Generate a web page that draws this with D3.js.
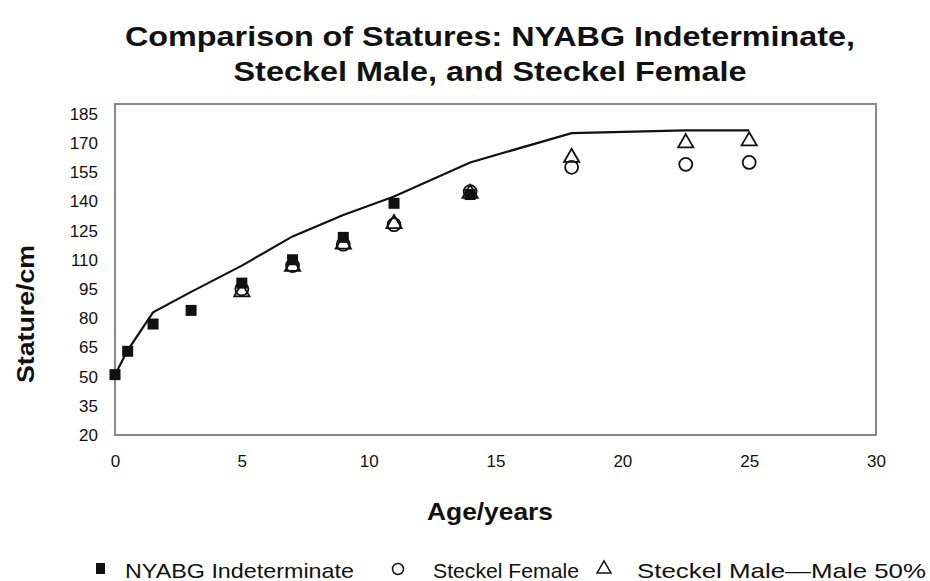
<!DOCTYPE html>
<html><head><meta charset="utf-8">
<script src="https://cdn.jsdelivr.net/npm/d3@7"></script>
<style>body{margin:0;background:#fff}svg{display:block}text{font-family:"Liberation Sans",Arial,sans-serif;fill:#111}</style>
</head><body><svg id="c" width="930" height="581"></svg>
<script>
const nyabgAge = [0, 0.5, 1.5, 3, 5, 7, 9, 11, 14];
const nyabgStature = [51, 63, 77, 84, 98, 110, 121.5, 139, 143.5];
const femaleAge = [5, 7, 9, 11, 14, 18, 22.5, 25];
const femaleStature = [95, 107, 118, 128, 145, 157.5, 159, 160];
const maleAge = [5, 7, 9, 11, 14, 18, 22.5, 25];
const maleStature = [93.5, 106.5, 118, 128.5, 144, 162.5, 170, 171];
const lineAge = [0, 0.5, 1.5, 3, 5, 7, 9, 11, 14, 18, 22.5, 25];
const lineStature = [51, 63.5, 83, 93.5, 107, 122, 133, 142.5, 160, 175, 176.5, 176.5];
const xTicks = [0, 5, 10, 15, 20, 25, 30];
const yTicks = [20, 35, 50, 65, 80, 95, 110, 125, 140, 155, 170, 185];
const titleLines = ["Comparison of Statures: NYABG Indeterminate,", "Steckel Male, and Steckel Female"];
const legendLabels = ["NYABG Indeterminate", "Steckel Female", "Steckel Male\u2014Male 50%"];

const svg = d3.select("#c");
const m = {l:115, r:876, t:104, b:435};
const x = d3.scaleLinear().domain([0,30]).range([m.l, m.r]);
const y = d3.scaleLinear().domain([20,190]).range([m.b, m.t]);

// title
const tw = [730, 513];
svg.selectAll("text.title").data(titleLines).join("text")
  .attr("class","title").attr("x",490).attr("y",(d,i)=>46+i*35)
  .attr("text-anchor","middle").attr("font-size",28).attr("font-weight","bold")
  .attr("textLength",(d,i)=>tw[i]).attr("lengthAdjust","spacingAndGlyphs").text(d=>d);

// plot box
svg.append("rect").attr("x",m.l).attr("y",m.t).attr("width",m.r-m.l).attr("height",m.b-m.t)
  .attr("fill","none").attr("stroke","#888").attr("stroke-width",2);

// axes
const xAxis = d3.axisBottom(x).tickValues(xTicks).tickSize(0).tickPadding(20);
const gx = svg.append("g").attr("transform",`translate(0,${m.b})`).call(xAxis);
gx.select(".domain").remove();
gx.selectAll("text").attr("font-size",17).attr("font-family","Liberation Sans, Arial").attr("fill","#111");
const yAxis = d3.axisLeft(y).tickValues(yTicks).tickSize(0).tickPadding(17);
const gy = svg.append("g").attr("transform",`translate(${m.l},0)`).call(yAxis);
gy.select(".domain").remove();
gy.selectAll("text").attr("font-size",17).attr("font-family","Liberation Sans, Arial").attr("fill","#111");

// axis titles
svg.append("text").attr("x",490).attr("y",520).attr("text-anchor","middle")
  .attr("font-size",24).attr("font-weight","bold")
  .attr("textLength",126).attr("lengthAdjust","spacingAndGlyphs").text("Age/years");
svg.append("text").attr("transform","translate(34,314) rotate(-90)").attr("text-anchor","middle")
  .attr("font-size",24).attr("font-weight","bold")
  .attr("textLength",138).attr("lengthAdjust","spacingAndGlyphs").text("Stature/cm");

// line
const lineData = lineAge.map((a,i)=>[a,lineStature[i]]);
svg.append("path").datum(lineData)
  .attr("d", d3.line().x(d=>x(d[0])).y(d=>y(d[1])))
  .attr("fill","none").attr("stroke","#111").attr("stroke-width",2.2);

// triangles (male)
const tri = d3.symbol().type(d3.symbolTriangle).size(100);
svg.append("g").selectAll("path").data(maleAge.map((a,i)=>[a,maleStature[i]])).join("path")
  .attr("d",tri).attr("transform",d=>`translate(${x(d[0])},${y(d[1])})`)
  .attr("fill","none").attr("stroke","#111").attr("stroke-width",1.8);

// circles (female)
svg.append("g").selectAll("circle").data(femaleAge.map((a,i)=>[a,femaleStature[i]])).join("circle")
  .attr("cx",d=>x(d[0])).attr("cy",d=>y(d[1])).attr("r",6.5)
  .attr("fill","none").attr("stroke","#111").attr("stroke-width",1.8);

// squares (NYABG)
svg.append("g").selectAll("rect").data(nyabgAge.map((a,i)=>[a,nyabgStature[i]])).join("rect")
  .attr("x",d=>x(d[0])-5.5).attr("y",d=>y(d[1])-5.5).attr("width",11).attr("height",11)
  .attr("fill","#111");

// legend
const lg = svg.append("g");
lg.append("rect").attr("x",96).attr("y",563).attr("width",9).attr("height",11).attr("fill","#111");
lg.append("circle").attr("cx",398).attr("cy",569).attr("r",5.5).attr("fill","none").attr("stroke","#111").attr("stroke-width",1.5);
lg.append("path").attr("d",d3.symbol().type(d3.symbolTriangle).size(85)).attr("transform","translate(604,569)")
  .attr("fill","none").attr("stroke","#111").attr("stroke-width",1.5);
const lx = [125, 433, 637], lw = [229, 146, 289];
lg.selectAll("text").data(legendLabels).join("text")
  .attr("x",(d,i)=>lx[i]).attr("y",578).attr("font-size",21)
  .attr("textLength",(d,i)=>lw[i]).attr("lengthAdjust","spacingAndGlyphs").text(d=>d);
</script></body></html>
